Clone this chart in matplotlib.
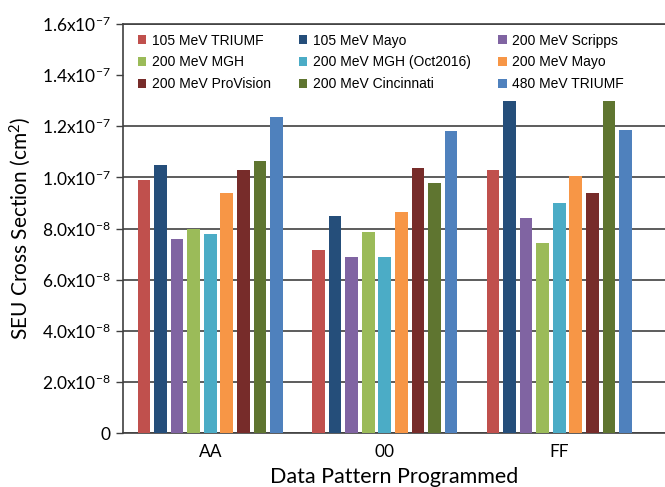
import numpy as np
import matplotlib
matplotlib.use('Agg')
import matplotlib.pyplot as plt

plt.rcParams['mathtext.default'] = 'regular'

patterns = ['AA', '00', 'FF']
series = ['105 MeV TRIUMF', '105 MeV Mayo', '200 MeV Scripps',
          '200 MeV MGH', '200 MeV MGH (Oct2016)', '200 MeV Mayo',
          '200 MeV ProVision', '200 MeV Cincinnati', '480 MeV TRIUMF']
colors = ['#C0504D', '#254E7A', '#8064A2', '#9BBB59', '#4BACC6',
          '#F79646', '#772C2A', '#5F7530', '#4F81BD']

# values per series: [AA, 00, FF]  (cm^2)
triumf105 = [9.9e-8, 7.15e-8, 1.03e-7]
mayo105 = [1.05e-7, 8.5e-8, 1.30e-7]
scripps200 = [7.6e-8, 6.9e-8, 8.4e-8]
mgh200 = [8.0e-8, 7.85e-8, 7.45e-8]
mgh200_oct = [7.8e-8, 6.9e-8, 9.0e-8]
mayo200 = [9.4e-8, 8.65e-8, 1.005e-7]
provision200 = [1.03e-7, 1.035e-7, 9.4e-8]
cinci200 = [1.063e-7, 9.77e-8, 1.297e-7]
triumf480 = [1.235e-7, 1.183e-7, 1.185e-7]
values = [triumf105, mayo105, scripps200, mgh200, mgh200_oct,
          mayo200, provision200, cinci200, triumf480]

yticks = [0, 2e-8, 4e-8, 6e-8, 8e-8, 1e-7, 1.2e-7, 1.4e-7, 1.6e-7]
ytick_labels = ['0', '2.0x10$^{-8}$', '4.0x10$^{-8}$', '6.0x10$^{-8}$',
                '8.0x10$^{-8}$', '1.0x10$^{-7}$', '1.2x10$^{-7}$',
                '1.4x10$^{-7}$', '1.6x10$^{-7}$']

fig = plt.figure(figsize=(6.65, 4.87), dpi=100)
ax = fig.add_axes([123/665, 1-433/487, 542/665, 409/487])

x = np.arange(len(patterns))
pitch = 0.095
width = 0.073
bars = []
for i in range(len(series)):
    b = ax.bar(x + (i-4)*pitch, values[i], width, color=colors[i],
               label=series[i], zorder=3)
    bars.append(b)

ax.set_xlim(-0.5, -0.5 + 542/174.5)
ax.set_ylim(0, 1.6e-7)
ax.set_yticks(yticks)
ax.set_yticklabels(ytick_labels, fontfamily='Lato', fontsize=12.5)
ax.set_xticks(x)
ax.set_xticklabels(patterns, fontfamily='Lato', fontsize=12.5)
ax.tick_params(axis='x', length=0, pad=8)
ax.tick_params(axis='y', length=5, width=1, color='#404040', pad=4)
ax.grid(axis='y', color='#303030', linewidth=1.1, zorder=0)
# the legend box hides the 1.4e-7 line
ax.get_ygridlines()[7].set_visible(False)
for s in ['left', 'top', 'bottom']:
    ax.spines[s].set_color('#404040')
    ax.spines[s].set_linewidth(1.2)
ax.spines['right'].set_visible(False)

ax.set_ylabel('SEU Cross Section (cm$^2$)', fontfamily='Lato', fontsize=15, labelpad=6)
ax.set_xlabel('Data Pattern Programmed', fontfamily='Lato', fontsize=15.5, labelpad=5)

# legend filled row by row like the original
order = [0, 3, 6, 1, 4, 7, 2, 5, 8]
leg = ax.legend([bars[k] for k in order], [series[k] for k in order],
                ncol=3, loc='upper left', bbox_to_anchor=(0.01, 1.0),
                prop={'family': 'Liberation Sans', 'size': 10},
                frameon=True, facecolor='white', edgecolor='none', framealpha=1,
                handlelength=0.6, handleheight=0.6, handletextpad=0.4,
                columnspacing=2.0, labelspacing=0.55, borderaxespad=0.3)
leg.set_zorder(5)

fig.savefig('out.png', dpi=100)
